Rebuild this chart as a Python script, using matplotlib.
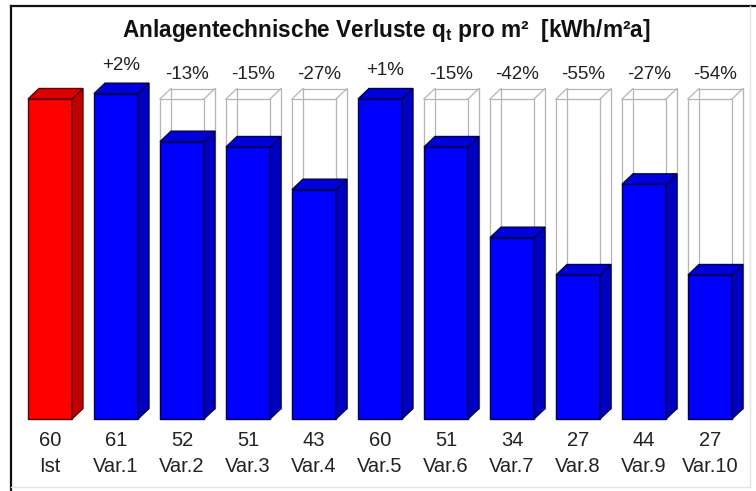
import matplotlib
matplotlib.use("Agg")
import matplotlib.pyplot as plt
from matplotlib.patches import Polygon
from matplotlib.lines import Line2D

plt.rcParams['font.family'] = ['Liberation Sans', 'DejaVu Sans']
plt.rcParams['mathtext.fontset'] = 'custom'
plt.rcParams['mathtext.rm'] = 'Liberation Sans:bold'
plt.rcParams['mathtext.it'] = 'Liberation Sans:bold'
plt.rcParams['mathtext.bf'] = 'Liberation Sans:bold'

# Data
categories = ["Ist", "Var.1", "Var.2", "Var.3", "Var.4", "Var.5",
              "Var.6", "Var.7", "Var.8", "Var.9", "Var.10"]
values = [60, 61, 52, 51, 43, 60, 51, 34, 27, 44, 27]
changes = ["", "+2%", "-13%", "-15%", "-27%", "+1%",
           "-15%", "-42%", "-55%", "-27%", "-54%"]
reference = values[0]

W, H = 756, 491
fig = plt.figure(figsize=(W / 100, H / 100), dpi=100)
ax = fig.add_axes([0, 0, 1, 1])

# pixel-friendly scales: 66 px per slot, 320 px for 60 units, baseline at y=419 px
slot_px = 66.0
unit_px = 320.0 / 60.0
x0_px = 50.0
base_px = 419.0
ax.set_xlim(-x0_px / slot_px, (W - x0_px) / slot_px)
ax.set_ylim((base_px - H) / unit_px, base_px / unit_px)
ax.axis('off')

width = 44.0 / slot_px
dx = 11.0 / slot_px
dy = 10.5 / unit_px

colors = {
    'red': ('#ff0000', '#dd0000', '#c00000', '#5a0000'),
    'blue': ('#0000ff', '#0000d8', '#0000c0', '#000050'),
}

box_col = '#b4b4b4'

for i, (cat, v) in enumerate(zip(categories, values)):
    xl, xr = i - width / 2, i + width / 2
    # wireframe of the reference level behind lower bars
    if i > 0 and v < reference:
        r = reference
        segs = [
            ([xl, xl], [0, r]), ([xr, xr], [0, r]), ([xl, xr], [r, r]),
            ([xl + dx, xl + dx], [dy, r + dy]), ([xr + dx, xr + dx], [dy, r + dy]),
            ([xl + dx, xr + dx], [r + dy, r + dy]),
            ([xl, xl + dx], [r, r + dy]), ([xr, xr + dx], [r, r + dy]),
        ]
        for xs, ys in segs:
            ax.add_line(Line2D(xs, ys, color=box_col, lw=0.9, zorder=1))
    front, top, side, edge = colors['red'] if i == 0 else colors['blue']
    ax.bar(i, v, width=width, color=front, edgecolor=edge, linewidth=1.0, zorder=3)
    ax.add_patch(Polygon([(xr, 0), (xr + dx, dy), (xr + dx, v + dy), (xr, v)],
                         closed=True, facecolor=side, edgecolor=edge, lw=1.0, zorder=3))
    ax.add_patch(Polygon([(xl, v), (xl + dx, v + dy), (xr + dx, v + dy), (xr, v)],
                         closed=True, facecolor=top, edgecolor=edge, lw=1.0, zorder=3))
    # value and category labels
    ax.text(i, (base_px - 441) / unit_px, f"{v}", ha='center', va='center',
            fontsize=14.5, color='#222222')
    ax.text(i, (base_px - 466) / unit_px, cat, ha='center', va='center',
            fontsize=14.5, color='#222222')
    if changes[i]:
        if v >= reference:
            ly = v + dy + 3.3
        else:
            ly = reference + dy + 2.55
        ax.text(i + dx / 2, ly, changes[i], ha='center', va='center',
                fontsize=13.5, color='#222222')

fig.text(386 / W, 1 - 30 / H,
         r"Anlagentechnische Verluste q$_{t}$ pro m²  [kWh/m²a]",
         ha='center', va='center', fontsize=16.3, fontweight='bold', color='#111111')

# outer frame
fig.add_artist(Line2D([11 / W, 11 / W], [0, 1 - 6 / H], color='#111111', lw=1.6))
fig.add_artist(Line2D([11 / W, 1], [1 - 6 / H, 1 - 6 / H], color='#111111', lw=1.6))
fig.add_artist(Line2D([750 / W, 750 / W], [4 / H, 1 - 6 / H], color='#e4e4e4', lw=1.0))
fig.add_artist(Line2D([11 / W, 750 / W], [4 / H, 4 / H], color='#e4e4e4', lw=1.0))

fig.savefig("out.png", dpi=100)
